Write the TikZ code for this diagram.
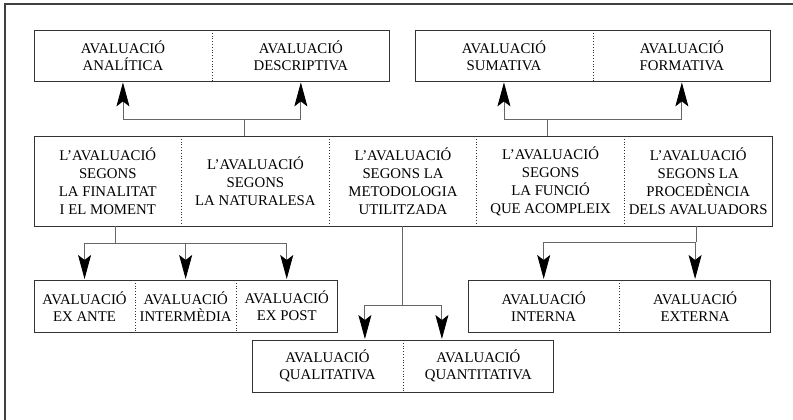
\documentclass[tikz,border=0pt]{standalone}
\usepackage{fontspec}
\setmainfont{Liberation Serif}
\usepackage{tikz}
\usetikzlibrary{arrows.meta, positioning}
\tikzstyle{cell} = [rectangle, inner sep=0pt, text centered, align=center, text=black, font=\fontsize{14.8}{18}\selectfont]
\tikzstyle{pairtop} = [cell, minimum width=177.5pt, minimum height=51pt, font=\fontsize{14.8}{17}\selectfont]
\tikzstyle{mid} = [cell, minimum width=147.2pt, minimum height=90pt]
\tikzstyle{tri} = [cell, minimum width=100.7pt, minimum height=52pt, font=\fontsize{14.8}{17}\selectfont]
\tikzstyle{pairlow} = [cell, minimum width=150.5pt, minimum height=52pt, font=\fontsize{14.8}{17}\selectfont]
\tikzstyle{frame} = [draw=black!80, line width=0.9pt]
\tikzstyle{split} = [draw=black!80, dotted, line width=0.8pt]
\tikzstyle{line} = [draw=black!60, line width=0.9pt]
\tikzstyle{arrow} = [line, -{Stealth[length=24pt, width=13pt, inset=5pt, color=black]}, shorten >=1pt]

\begin{document}
\begin{tikzpicture}[x=1pt, y=1pt, node distance=0pt]
    \useasboundingbox (0,0) rectangle (793,-420);
    \draw [line width=1.5pt, black!75] (5,-420) -- (5,-4) -- (793,-4);

    % top row
    \node (ana) [pairtop, anchor=north west] at (34,-30) {AVALUACIÓ\\ANALÍTICA};
    \node (desc) [pairtop, right=of ana] {AVALUACIÓ\\DESCRIPTIVA};
    \node (sum) [pairtop, anchor=north west] at (415,-30) {AVALUACIÓ\\SUMATIVA};
    \node (form) [pairtop, right=of sum] {AVALUACIÓ\\FORMATIVA};

    % middle row
    \node (fin) [mid, anchor=north west] at (34,-136) {L’AVALUACIÓ\\SEGONS\\LA FINALITAT\\I EL MOMENT};
    \node (nat) [mid, right=of fin] {L’AVALUACIÓ\\SEGONS\\LA NATURALESA};
    \node (met) [mid, right=of nat] {L’AVALUACIÓ\\SEGONS LA\\METODOLOGIA\\UTILITZADA};
    \node (func) [mid, right=of met] {L’AVALUACIÓ\\SEGONS\\LA FUNCIÓ\\QUE ACOMPLEIX};
    \node (proc) [mid, right=of func] {L’AVALUACIÓ\\SEGONS LA\\PROCEDÈNCIA\\DELS AVALUADORS};

    % bottom rows
    \node (ante) [tri, anchor=north west] at (34,-280) {AVALUACIÓ\\EX ANTE};
    \node (inter) [tri, right=of ante] {AVALUACIÓ\\INTERMÈDIA};
    \node (post) [tri, right=of inter] {AVALUACIÓ\\EX POST};
    \node (intern) [pairlow, minimum width=151pt, anchor=north west] at (468,-280) {AVALUACIÓ\\INTERNA};
    \node (extern) [pairlow, minimum width=151pt, right=of intern] {AVALUACIÓ\\EXTERNA};
    \node (qual) [pairlow, anchor=north west] at (252,-340) {AVALUACIÓ\\QUALITATIVA};
    \node (quant) [pairlow, right=of qual] {AVALUACIÓ\\QUANTITATIVA};

    % boxes and dotted splits
    \draw [frame] (ana.north west) rectangle (desc.south east);
    \draw [split] (ana.north east) -- (ana.south east);
    \draw [frame] (sum.north west) rectangle (form.south east);
    \draw [split] (sum.north east) -- (sum.south east);
    \draw [frame] (fin.north west) rectangle (proc.south east);
    \foreach \c in {fin, nat, met, func}
        \draw [split] (\c.north east) -- (\c.south east);
    \draw [frame] (ante.north west) rectangle (post.south east);
    \draw [split] (ante.north east) -- (ante.south east);
    \draw [split] (inter.north east) -- (inter.south east);
    \draw [frame] (intern.north west) rectangle (extern.south east);
    \draw [split] (intern.north east) -- (intern.south east);
    \draw [frame] (qual.north west) rectangle (quant.south east);
    \draw [split] (qual.north east) -- (qual.south east);

    % connectors
    \coordinate (jA) at (244,-119);
    \coordinate (jE) at (547,-119);
    \coordinate (jB) at (115,-243);
    \coordinate (jC) at (402,-305);
    \coordinate (jD) at (696,-242);

    \draw [line] (jA |- fin.north) -- (jA);
    \draw [arrow] (jA) -| (ana);
    \draw [arrow] (jA) -| (desc);
    \draw [line] (jE |- func.north) -- (jE);
    \draw [arrow] (jE) -| (sum);
    \draw [arrow] (jE) -| (form);
    \draw [line] (jB |- fin.south) -- (jB);
    \draw [arrow] (jB) -| (ante);
    \draw [arrow] (jB) -| (inter);
    \draw [arrow] (jB) -| (post);
    \draw [line] (jC |- met.south) -- (jC);
    \draw [arrow] (jC) -| ([xshift=-38pt]qual.north east);
    \draw [arrow] (jC) -| ([xshift=39pt]quant.north west);
    \draw [line] (jD |- proc.south) -- (jD);
    \draw [arrow] (jD) -| (intern);
    \draw [arrow] (jD) -| (extern);
\end{tikzpicture}
\end{document}
